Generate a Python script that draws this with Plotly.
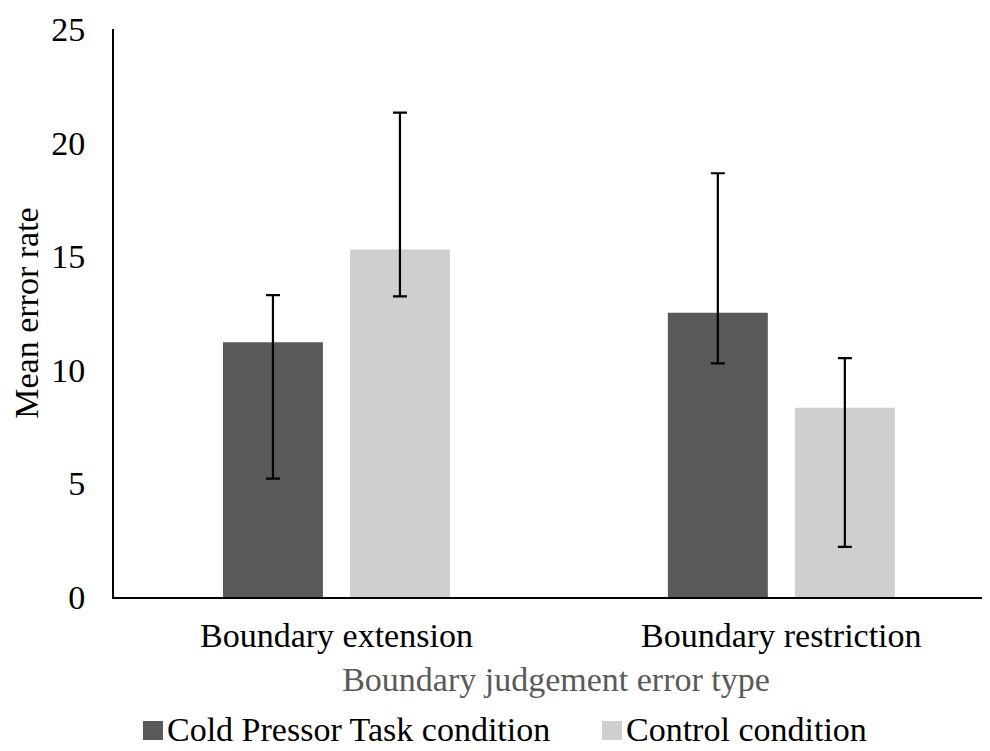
import plotly.graph_objects as go

categories = ["Boundary extension", "Boundary restriction"]
series_names = ["Cold Pressor Task condition", "Control condition"]
series_colors = ["#595959", "#D0CECE"]
cpt_values = [11.21, 12.51]
cpt_err_plus = [2.08, 6.14]
cpt_err_minus = [6.00, 2.23]
ctrl_values = [15.29, 8.33]
ctrl_err_plus = [6.03, 2.18]
ctrl_err_minus = [2.06, 6.12]
y_ticks = [0, 5, 10, 15, 20, 25]

FONT = "Liberation Serif, Times New Roman, serif"
FS = 34
W, H = 990, 751
OFF = 8  # page body margin offset of the figure on screen
ML, MR, MT = 114 - OFF, 0, 29 - OFF
MB = H - (597 - OFF)
PW, PH = W - ML - MR, H - MT - MB


def px_x(sx):
    return (sx - OFF - ML) / PW


def px_y(sy):
    return (H - MB - (sy - OFF)) / PH


fig = go.Figure()
fig.add_trace(go.Bar(
    name=series_names[0], x=categories, y=cpt_values, showlegend=False,
    marker=dict(color=series_colors[0], line=dict(width=0)),
    error_y=dict(type="data", symmetric=False, array=cpt_err_plus, arrayminus=cpt_err_minus,
                 color="black", thickness=2.2, width=7),
))
fig.add_trace(go.Bar(
    name=series_names[1], x=categories, y=ctrl_values, showlegend=False,
    marker=dict(color=series_colors[1], line=dict(width=0)),
    error_y=dict(type="data", symmetric=False, array=ctrl_err_plus, arrayminus=ctrl_err_minus,
                 color="black", thickness=2.2, width=7),
))

# legend drawn at the bottom like the original
legend_left_px = [143, 602]
for name, color, lx in zip(series_names, series_colors, legend_left_px):
    fig.add_shape(type="rect", xref="paper", yref="paper",
                  x0=px_x(lx), x1=px_x(lx + 20), y0=px_y(740), y1=px_y(721),
                  fillcolor=color, line=dict(width=0))
    fig.add_annotation(text=name, xref="paper", yref="paper",
                       x=px_x(lx + 23), y=px_y(729), xanchor="left", yanchor="middle",
                       showarrow=False, borderpad=0,
                       font=dict(family=FONT, size=FS, color="black"))

fig.update_layout(
    width=W, height=H,
    margin=dict(l=ML, r=MR, t=MT, b=MB, autoexpand=False),
    paper_bgcolor="white", plot_bgcolor="white",
    font=dict(family=FONT, size=FS, color="black"),
    barmode="group", bargap=0.429, bargroupgap=0.213,
    showlegend=False,
)
fig.update_xaxes(
    range=[-0.5, 1.487], showline=True, linecolor="black", linewidth=2,
    showgrid=False, zeroline=False, ticks="", ticklabelstandoff=7, automargin=False,
    title=dict(text="Boundary judgement error type", font=dict(size=FS, color="#595959"), standoff=14),
)
fig.update_yaxes(
    range=[0, 25], tickvals=y_ticks, showline=True, linecolor="black", linewidth=2,
    showgrid=False, zeroline=False, ticks="", ticklabelstandoff=20, automargin=False,
    title=dict(text="Mean error rate", font=dict(size=FS, color="black"), standoff=5),
)

fig.write_html("out.html")
